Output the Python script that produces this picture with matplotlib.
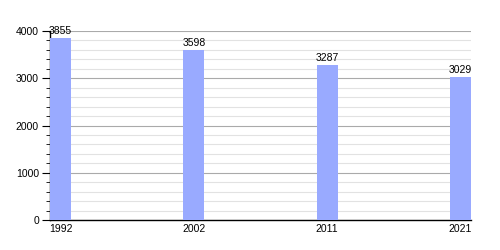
import matplotlib
matplotlib.use("Agg")
import matplotlib.pyplot as plt
from matplotlib.ticker import MultipleLocator

years = ["1992", "2002", "2011", "2021"]
population = [3855, 3598, 3287, 3029]

plt.rcParams['font.family'] = ['Liberation Sans', 'DejaVu Sans']

fig = plt.figure(figsize=(5, 2.5), dpi=100)
ax = fig.add_axes([0.1, 0.12, 0.842, 0.756])

x = list(range(len(years)))
w = 0.158
bars = ax.bar(x, population, width=w, color="#99aaff", zorder=3)
for xi, v in zip(x, population):
    ax.text(xi, v + 40, str(v), ha="center", va="bottom", fontsize=7.5, zorder=4, clip_on=False)

ax.set_xlim(-w / 2, 3 + w / 2)
ax.set_ylim(0, 4000)
ax.set_xticks(x)
ax.set_xticklabels(years)
ax.yaxis.set_major_locator(MultipleLocator(1000))
ax.yaxis.set_minor_locator(MultipleLocator(200))
ax.grid(axis="y", which="major", color="#aaaaaa", linewidth=0.8, zorder=1)
ax.grid(axis="y", which="minor", color="#e2e2e2", linewidth=0.8, zorder=0)
ax.tick_params(axis="x", length=0, labelsize=7.5, pad=3)
ax.tick_params(axis="y", which="major", length=6, labelsize=7.5, pad=2)
ax.tick_params(axis="y", which="minor", length=3)
for s in ["top", "right"]:
    ax.spines[s].set_visible(False)
ax.spines["left"].set_linewidth(1)
ax.spines["bottom"].set_linewidth(1)

fig.savefig("out.png", dpi=100)
